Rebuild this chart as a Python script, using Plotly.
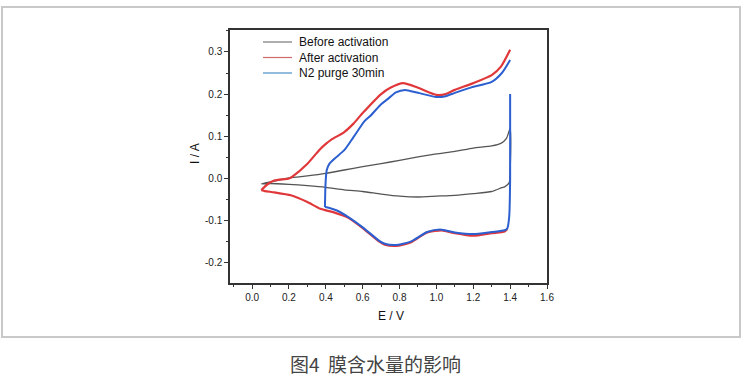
import plotly.graph_objects as go

# ---- data (E in V, I in A) ----
before_E = [0.05, 0.1, 0.2, 0.3, 0.4, 0.5, 0.6, 0.7, 0.8, 0.9, 1.0, 1.1, 1.2, 1.3, 1.35, 1.38, 1.4,
            1.4, 1.395, 1.37, 1.355, 1.3, 1.2, 1.1, 1.0, 0.9, 0.8, 0.7, 0.6, 0.5, 0.4, 0.3, 0.2, 0.1, 0.05]
before_I = [-0.013, -0.008, 0.001, 0.006, 0.012, 0.02, 0.028, 0.035, 0.043, 0.051, 0.058, 0.064, 0.072, 0.077, 0.083, 0.095, 0.118,
            0.02, -0.01, -0.02, -0.022, -0.031, -0.036, -0.040, -0.042, -0.044, -0.042, -0.037, -0.031, -0.027, -0.021, -0.017, -0.014, -0.012, -0.013]

after_E = [0.05, 0.08, 0.12, 0.2, 0.22, 0.3, 0.35, 0.37, 0.4, 0.43, 0.5, 0.55, 0.6, 0.7, 0.75, 0.82, 0.9, 1.0, 1.05, 1.1, 1.2, 1.3, 1.35, 1.4,
           None,
           1.385, 1.37, 1.3, 1.2, 1.1, 1.03, 0.95, 0.86, 0.78, 0.72, 0.69, 0.6, 0.52, 0.44, 0.37, 0.3, 0.21, 0.12, 0.07, 0.05]
after_I = [-0.028, -0.015, -0.005, 0.0, 0.005, 0.035, 0.06, 0.07, 0.082, 0.092, 0.11, 0.13, 0.155, 0.20, 0.215, 0.226, 0.215, 0.198, 0.20, 0.21, 0.226, 0.245, 0.265, 0.305,
           None,
           -0.12, -0.126, -0.13, -0.136, -0.13, -0.123, -0.128, -0.152, -0.160, -0.157, -0.15, -0.118, -0.093, -0.080, -0.072, -0.056, -0.040, -0.033, -0.03, -0.028]

n2_E = [0.395, 0.397, 0.40, 0.405, 0.42, 0.45, 0.5, 0.55, 0.61, 0.645, 0.70, 0.735, 0.78, 0.83, 0.9, 1.0, 1.05, 1.1, 1.19, 1.3, 1.355, 1.40,
        None,
        1.40, 1.40, 1.395, 1.385, 1.37, 1.3, 1.2, 1.1, 1.02, 0.95, 0.86, 0.78, 0.72, 0.69, 0.6, 0.52, 0.46, 0.42, 0.395]
n2_I = [-0.068, -0.03, 0.0, 0.02, 0.035, 0.048, 0.067, 0.098, 0.136, 0.150, 0.176, 0.188, 0.204, 0.210, 0.203, 0.193, 0.195, 0.203, 0.216, 0.229, 0.250, 0.281,
        None,
        0.20, 0.0, -0.09, -0.118, -0.123, -0.127, -0.132, -0.128, -0.121, -0.127, -0.150, -0.158, -0.155, -0.148, -0.116, -0.091, -0.076, -0.070, -0.068]

series_names = ["Before activation", "After activation", "N2 purge 30min"]
series_colors = ["#555555", "#e0383a", "#2c5fcf"]
legend_colors = ["#777777", "#d06a6a", "#4a8fc4"]
x_ticks = [0.0, 0.2, 0.4, 0.6, 0.8, 1.0, 1.2, 1.4, 1.6]
y_ticks = [-0.2, -0.1, 0.0, 0.1, 0.2, 0.3]
caption = "图4  膜含水量的影响"

fig = go.Figure()
fig.add_trace(go.Scatter(x=before_E, y=before_I, mode="lines", name=series_names[0],
                         line=dict(color=series_colors[0], width=1.3, shape="spline", smoothing=0.6)))
fig.add_trace(go.Scatter(x=after_E, y=after_I, mode="lines", name=series_names[1],
                         line=dict(color=series_colors[1], width=2.2, shape="spline", smoothing=0.6)))
fig.add_trace(go.Scatter(x=n2_E, y=n2_I, mode="lines", name=series_names[2],
                         line=dict(color=series_colors[2], width=2.0, shape="spline", smoothing=0.6)))

W, H = 750, 387
L, R, T, B = 230, 547, 30, 283
pw, ph = R - L, B - T

def px(x):
    return (x - L) / pw

def py(y):
    return (B - y) / ph

axis_common = dict(showgrid=False, zeroline=False, showline=True, linecolor="#333333", linewidth=1.5,
                   mirror=True, ticks="outside", ticklen=4, tickwidth=1.2, tickcolor="#333333",
                   tickfont=dict(family="Liberation Sans, Arial", size=10, color="#222222"))

shapes = [dict(type="rect", xref="paper", yref="paper",
               x0=px(2), x1=px(740), y0=py(337), y1=py(7),
               line=dict(color="#c8c8c8", width=2), layer="below")]
annotations = [
    dict(text="I / A", x=px(195), y=py(154), xref="paper", yref="paper", showarrow=False,
         xanchor="center", yanchor="middle",
         textangle=-90, font=dict(family="Liberation Sans, Arial", size=12, color="#111111")),
    dict(text="E / V", x=px(391), y=py(316), xref="paper", yref="paper", showarrow=False,
         xanchor="center", yanchor="middle",
         font=dict(family="Liberation Sans, Arial", size=12, color="#111111")),
    dict(text=caption, x=px(375), y=py(363), xref="paper", yref="paper", showarrow=False,
         xanchor="center", yanchor="middle",
         font=dict(family="Noto Sans CJK SC", size=19, color="#444444")),
]
# custom legend (rows ~15.5 px apart)
for i, (name, col) in enumerate(zip(series_names, legend_colors)):
    yy = 42 + i * 15.5
    shapes.append(dict(type="line", xref="paper", yref="paper", x0=px(263), x1=px(292), y0=py(yy), y1=py(yy),
                       line=dict(color=col, width=1.2)))
    annotations.append(dict(text=name, x=px(297), y=py(yy), xref="paper", yref="paper", showarrow=False,
                            xanchor="left", yanchor="middle",
                            font=dict(family="Liberation Sans, Arial", size=12, color="#111111")))

fig.update_layout(
    width=W, height=H,
    margin=dict(l=L, r=W - R, t=T, b=H - B),
    paper_bgcolor="white", plot_bgcolor="white",
    showlegend=False,
    xaxis=dict(range=[-0.12, 1.6], tickvals=x_ticks, ticktext=[f"{v:.1f}" for v in x_ticks],
               minor=dict(dtick=0.1, tick0=0, ticks="outside", ticklen=2.5, tickcolor="#333333", showgrid=False),
               **axis_common),
    yaxis=dict(range=[-0.248, 0.352], tickvals=y_ticks, ticktext=[f"{v:.1f}" for v in y_ticks],
               minor=dict(dtick=0.05, tick0=0, ticks="outside", ticklen=2.5, tickcolor="#333333", showgrid=False),
               **axis_common),
    shapes=shapes,
    annotations=annotations,
)

fig.write_html("out.html", config={"displayModeBar": False},
               post_script="document.body.style.margin='0';document.body.style.overflow='hidden';")
